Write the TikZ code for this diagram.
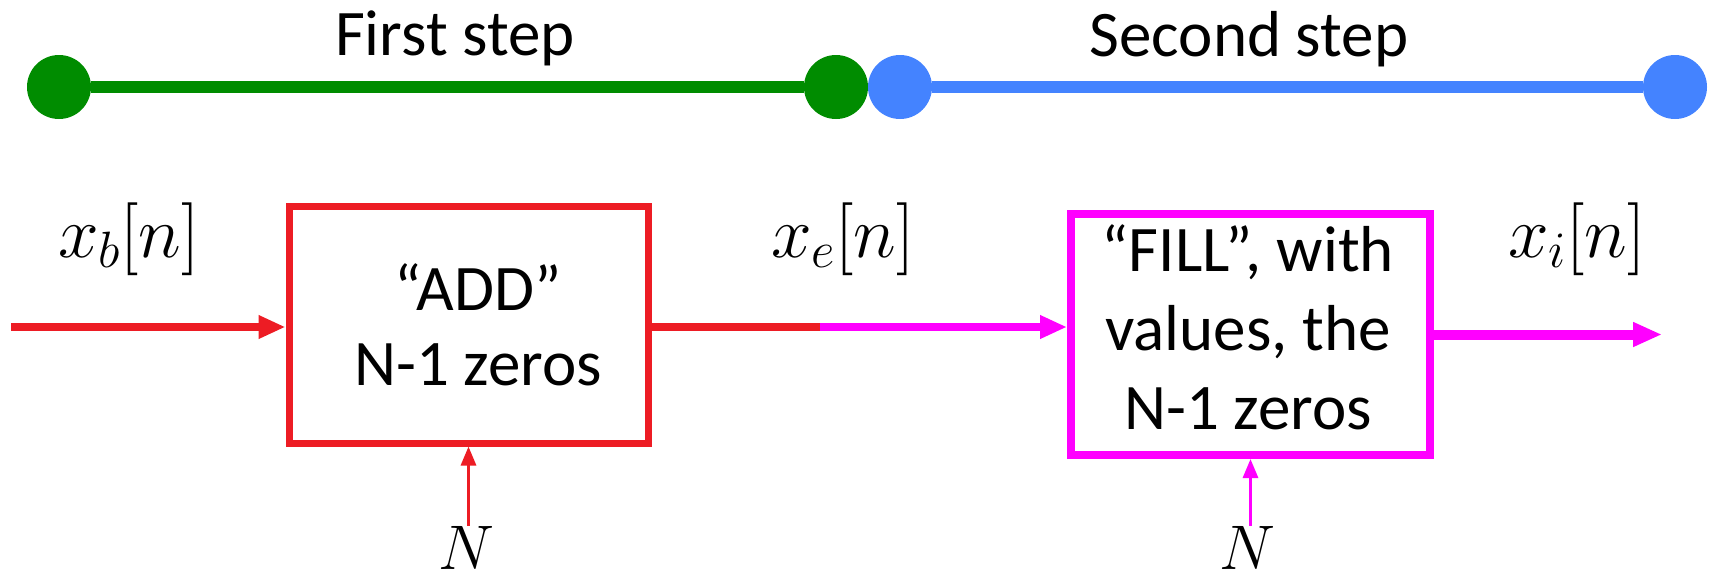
\RequirePackage{fix-cm}
\documentclass[tikz,border=0pt]{standalone}
\usepackage{fontspec}
\newfontfamily\carl{Carlito}
\usetikzlibrary{arrows.meta}
\definecolor{sgreen}{RGB}{0,140,0}
\definecolor{sblue}{RGB}{68,131,255}
\definecolor{sred}{RGB}{237,28,36}
\definecolor{smag}{RGB}{255,0,255}
\begin{document}
\begin{tikzpicture}[x=1pt,y=-1pt,
  dot/.style={circle,inner sep=0pt,minimum size=64pt,fill=#1},
  steplbl/.style={font=\carl\fontsize{65}{78}\selectfont,inner sep=0pt,anchor=base},
  boxtxt/.style={font=\carl\fontsize{65}{#1}\selectfont,align=center,inner sep=0pt},
  blk/.style={draw=#1,inner sep=0pt,minimum width=359pt},
  sig/.style={font=\fontsize{73}{80}\selectfont,inner sep=0pt,anchor=base west},
  nlbl/.style={font=\fontsize{63}{70}\selectfont,inner sep=0pt,anchor=base west},
  bigarrow/.style={line width=8pt,-{Triangle[length=27pt,width=22pt]}},
  thinarrow/.style={line width=3pt,-{Triangle[length=19pt,width=15pt]}}
]
\useasboundingbox (0,0) rectangle (1709,579);

% top timeline
\node[dot=sgreen] (g1) at (59,87) {};
\node[dot=sgreen] (g2) at (836,87) {};
\node[dot=sblue] (b1) at (900,87) {};
\node[dot=sblue] (b2) at (1675,87) {};
\draw[sgreen,line width=12.7pt] (g1) -- (g2);
\draw[sblue,line width=12.7pt] (b1) -- (b2);
\node[steplbl] (s1) at (455,55) {First step};
\node[steplbl] (s2) at (1249,56) {Second step};

% blocks
\node[blk=sred,line width=7pt,minimum height=237pt] (box1) at (468.5,324.5) {};
\node[boxtxt=75] (t1) at (478,324.5) {“ADD”\\N-1 zeros};
\node[blk=smag,line width=8pt,minimum height=241pt] (box2) at (1250.5,334.5) {};
\node[boxtxt=79] (t2) at (1248,327) {“FILL”, with\\values, the\\N-1 zeros};

% signal labels
\node[sig] (xb) at (58,257) {$x_b[n]$};
\node[sig] (xe) at (771,257) {$x_e[n]$};
\node[sig] (xi) at (1508,257) {$x_i[n]$};
\node[nlbl] (n1) at (438,569) {$N$};
\node[nlbl] (n2) at (1219,569) {$N$};

% connectors
\coordinate (in1) at (11,327);
\coordinate (mid) at (820,327);
\coordinate (out) at (1662,334.5);
\draw[sred,bigarrow] (in1) -- (in1 -| box1.west);
\draw[sred,line width=8pt] (in1 -| box1.east) -- (mid);
\draw[smag,bigarrow] (mid) -- (mid -| box2.west);
\draw[smag,line width=10pt,-{Triangle[length=29pt,width=23pt]}] (box2.east) -- (out);
\draw[sred,thinarrow] (box1.south |- n1.north) -- (box1.south);
\draw[smag,thinarrow] (box2.south |- n2.north) -- (box2.south);
\end{tikzpicture}
\end{document}
